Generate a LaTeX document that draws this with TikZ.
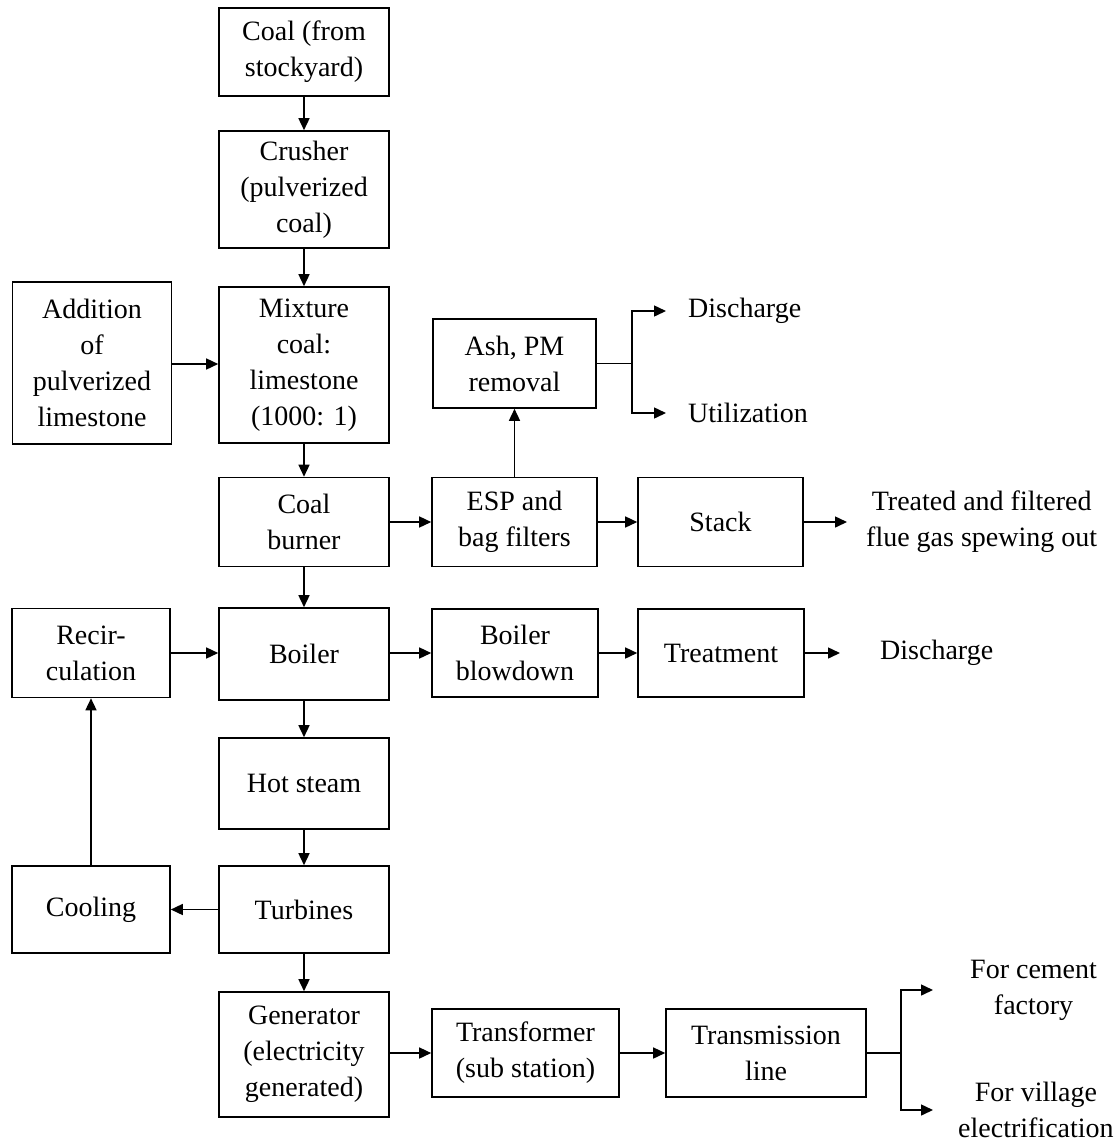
\documentclass[tikz,border=0pt]{standalone}
\usepackage{fontspec}
\setmainfont{Liberation Serif}
\usetikzlibrary{arrows.meta}
\begin{document}
\begin{tikzpicture}[x=1pt,y=-1pt,
  font=\fontsize{28}{36}\selectfont,
  box/.style={draw, line width=1.6pt, align=center, inner sep=0pt},
  lbl/.style={align=center, inner ysep=0pt, anchor=west},
  arr/.style={line width=1.5pt, -{Triangle[length=12pt,width=11pt]}},
  ln/.style={line width=1.5pt}]
\useasboundingbox (0,0) rectangle (1119,1144);
% main column
\node[box, minimum width=170pt, minimum height=88pt]  (coal)      at (304,52)     {Coal (from\\stockyard)};
\node[box, minimum width=170pt, minimum height=117pt] (crusher)   at (304,189.5)  {Crusher\\(pulverized\\coal)};
\node[box, minimum width=170pt, minimum height=156pt] (mixture)   at (304,365)    {Mixture\\coal:\\limestone\\(1000: 1)};
\node[box, minimum width=159pt, minimum height=162pt] (addition)  at (92,363)     {Addition\\of\\pulverized\\limestone};
\node[box, minimum width=170pt, minimum height=89pt]  (burner)    at (304,522)    {Coal\\burner};
\node[box, minimum width=165pt, minimum height=89pt]  (esp)       at (514.5,522)  {ESP and\\bag filters};
\node[box, minimum width=165pt, minimum height=89pt]  (stack)     at (720.5,522)  {Stack};
\node[box, minimum width=163pt, minimum height=89pt]  (ash)       at (514.5,363.5){Ash, PM\\removal};
\node[box, minimum width=158pt, minimum height=89pt]  (recirc)    at (91,653)     {Recir-\\culation};
\node[box, minimum width=170pt, minimum height=92pt]  (boiler)    at (304,654)    {Boiler};
\node[box, minimum width=166pt, minimum height=88pt]  (blowdown)  at (515,653)    {Boiler\\blowdown};
\node[box, minimum width=166pt, minimum height=88pt]  (treatment) at (721,653)    {Treatment};
\node[box, minimum width=170pt, minimum height=91pt]  (hotsteam)  at (304,783.5)  {Hot steam};
\node[box, minimum width=170pt, minimum height=87pt]  (turbines)  at (304,909.5)  {Turbines};
\node[box, minimum width=158pt, minimum height=87pt]  (cooling)   at (91,909.5)   {Cooling};
\node[box, minimum width=170pt, minimum height=125pt] (generator) at (304,1054.5) {Generator\\(electricity\\generated)};
\node[box, minimum width=187pt, minimum height=88pt]  (transformer) at (525.5,1053) {Transformer\\(sub station)};
\node[box, minimum width=200pt, minimum height=88pt]  (transmission) at (766,1053) {Transmission\\line};
% free texts
\node[lbl, inner xsep=22pt] (dis1) at (666,311) {Discharge};
\node[lbl, inner xsep=22pt] (util) at (666,413) {Utilization};
\node[lbl, inner xsep=19pt] (treated) at (847,522) {Treated and filtered\\flue gas spewing out};
\node[lbl, inner xsep=40pt] (dis2) at (840,653) {Discharge};
\node[lbl, inner xsep=37pt] (cement) at (933,990) {For cement\\factory};
\node[lbl, inner xsep=25pt] (village) at (933,1110) {For village\\electrification};
% connectors
\draw[arr] (coal.south) -- (crusher.north);
\draw[arr] (crusher.south) -- (mixture.north);
\draw[arr] (addition.east |- 0,364) -- (mixture.west |- 0,364);
\draw[arr] (mixture.south) -- (burner.north);
\draw[arr] (burner.east) -- (esp.west);
\draw[arr] (esp.east) -- (stack.west);
\draw[arr] (stack.east) -- (stack.east -| treated.west);
\draw[arr] (esp.north) -- (ash.south);
\draw[ln] (ash.east) -- ++(35,0) coordinate (j1);
\draw[arr] (j1) |- (dis1.west);
\draw[arr] (j1) |- (util.west);
\draw[arr] (burner.south) -- (boiler.north);
\draw[arr] (recirc.east) -- (recirc.east -| boiler.west);
\draw[arr] (boiler.east |- blowdown.east) -- (blowdown.west);
\draw[arr] (blowdown.east) -- (treatment.west);
\draw[arr] (treatment.east) -- (treatment.east -| dis2.west);
\draw[arr] (boiler.south) -- (hotsteam.north);
\draw[arr] (hotsteam.south) -- (turbines.north);
\draw[arr] (turbines.west) -- (cooling.east);
\draw[arr] (cooling.north) -- (recirc.south);
\draw[arr] (turbines.south) -- (generator.north);
\draw[arr] (generator.east |- transformer.west) -- (transformer.west);
\draw[arr] (transformer.east) -- (transmission.west);
\draw[ln] (transmission.east) -- ++(34,0) coordinate (j2);
\draw[arr] (j2) |- (cement.west);
\draw[arr] (j2) |- (village.west);
\end{tikzpicture}
\end{document}
